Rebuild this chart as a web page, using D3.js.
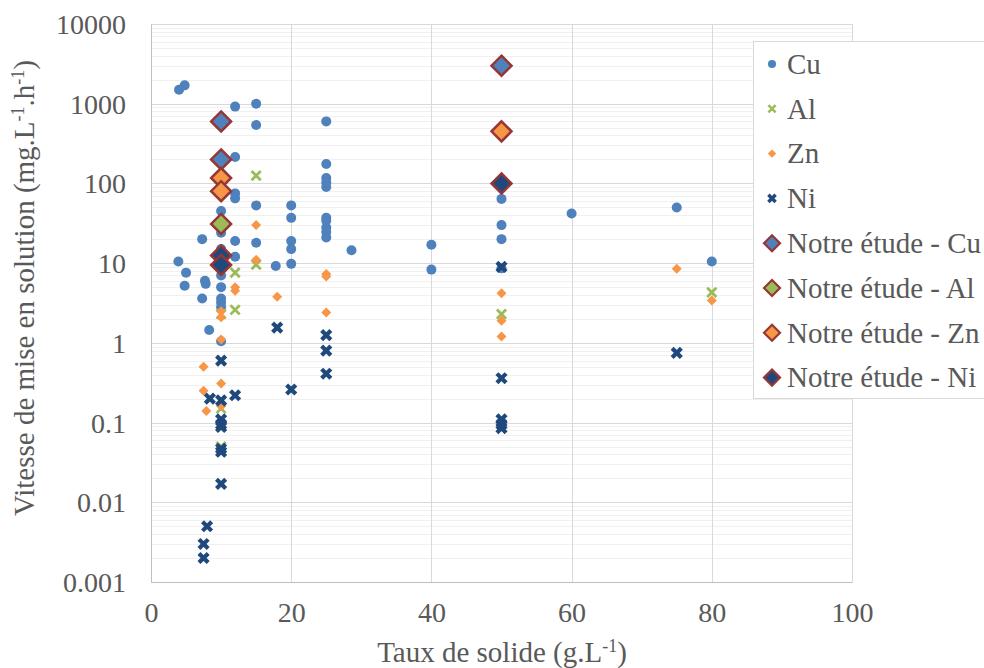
<!DOCTYPE html>
<html>
<head>
<meta charset="utf-8">
<script src="https://cdn.jsdelivr.net/npm/d3@7"></script>
<style>
  html, body { margin: 0; padding: 0; background: #fff; }
  svg { display: block; }
</style>
</head>
<body>
<svg id="chart" width="984" height="668"></svg>
<script>
// ---- Data (x = Taux de solide g/L, y = Vitesse mg/L/h) ----
const cuData = [
  [4,1500],[4.8,1700],[12,920],[15,1000],[15,540],[12,215],
  [12,75],[12,65],[15,53],[10,45],[10,24],[7.3,20],[12,19],[15,18],[10,15],[12,12],
  [3.9,10.5],[5,7.6],[7.7,6],[7.8,5.5],[4.8,5.2],[10,7],[10,5],[7.3,3.6],[10,3.6],
  [10,3.2],[10,2.8],[8.3,1.45],[10,1.05],
  [25,600],[25,175],[25,117],[25,103],[25,90],[20,53],[20,37],[25,37],[25,34],
  [25,28],[25,24.5],[25,21],[20,19],[20,15],[28.6,14.5],[17.8,9.2],[20,9.8],
  [50,64],[50,30],[50,20],[40,17],[40,8.3],[50,8.6],[60,42],[75,50],[80,10.5]
];
const alData = [
  [15,125],[12,7.6],[15,9.6],[12,2.6],[10,2.3],[10,0.15],[10,0.05],[50,2.3],[80,4.3]
];
const znData = [
  [15,30],[15,11],[12,5],[12,4.5],[10,2.5],[10,2.1],[10,1.1],[7.5,0.5],[10,0.31],
  [7.5,0.25],[7.9,0.14],[10,0.16],[18,3.8],[25,7.3],[25,6.8],[25,2.4],
  [50,4.2],[50,1.9],[50,1.2],[75,8.5],[80,3.4]
];
const niData = [
  [10,0.6],[8.4,0.2],[10,0.19],[12,0.22],[10,0.11],[10,0.095],[10,0.088],
  [10,0.047],[10,0.043],[10,0.017],[8,0.005],[7.5,0.003],[7.5,0.002],
  [18,1.55],[25,1.25],[25,0.8],[25,0.41],[20,0.26],
  [50,9],[50,0.36],[50,0.11],[50,0.095],[50,0.085],[75,0.75]
];
const notreCu = [[10,600],[10,200],[50,3000]];
const notreAl = [[10,31]];
const notreZn = [[10,117],[10,80],[50,450]];
const notreNi = [[10,12.5],[10,9.5],[50,100]];

const xTicks = [0,20,40,60,80,100];
const yTicks = [0.001,0.01,0.1,1,10,100,1000,10000];
const yTickLabels = ["0.001","0.01","0.1","1","10","100","1000","10000"];
const legendLabels = ["Cu","Al","Zn","Ni","Notre étude - Cu","Notre étude - Al","Notre étude - Zn","Notre étude - Ni"];

// ---- Setup ----
const FONT = "'Liberation Serif', 'Times New Roman', serif";
const TXT = "#595959";
const svg = d3.select("#chart");
const L = 151, R = 852, T = 24, B = 582;
const x = d3.scaleLinear().domain([0,100]).range([L,R]);
const y = d3.scaleLog().domain([0.001,10000]).range([B,T]);

const C = { cu:"#4F81BD", al:"#9BBB59", zn:"#F79646", ni:"#1F497D", border:"#953735" };

// minor gridlines
const minor = [];
for (let e = -3; e < 4; e++) for (let k = 2; k <= 9; k++) minor.push(k * Math.pow(10, e));
svg.append("g").selectAll("line").data(minor).join("line")
  .attr("x1", L).attr("x2", R)
  .attr("y1", d => Math.round(y(d)) + 0.5).attr("y2", d => Math.round(y(d)) + 0.5)
  .attr("stroke", "#F0F0F0").attr("stroke-width", 1);

// major gridlines
svg.append("g").selectAll("line").data(yTicks).join("line")
  .attr("x1", L).attr("x2", R)
  .attr("y1", d => Math.round(y(d)) + 0.5).attr("y2", d => Math.round(y(d)) + 0.5)
  .attr("stroke", "#D9D9D9").attr("stroke-width", 1);
svg.append("g").selectAll("line").data(xTicks).join("line")
  .attr("y1", T).attr("y2", B)
  .attr("x1", d => Math.round(x(d)) + 0.5).attr("x2", d => Math.round(x(d)) + 0.5)
  .attr("stroke", "#D9D9D9").attr("stroke-width", 1);

// axes (labels only)
const xAxis = d3.axisBottom(x).tickValues(xTicks).tickSize(0).tickPadding(0).tickFormat(d3.format("d"));
const gx = svg.append("g").attr("transform", `translate(0,${B})`).call(xAxis);
gx.attr("font-family", null).attr("font-size", null);
gx.select(".domain").attr("stroke", "#BFBFBF");
gx.selectAll("text").attr("dy", null).attr("y", 40).style("font-size", "28px")
  .style("font-family", FONT).attr("fill", TXT);

const yAxis = d3.axisLeft(y).tickValues(yTicks).tickSize(0).tickPadding(0)
  .tickFormat((d, i) => yTickLabels[i]);
const gy = svg.append("g").attr("transform", `translate(${L},0)`).call(yAxis);
gy.attr("font-family", null).attr("font-size", null);
gy.select(".domain").attr("stroke", "#BFBFBF");
gy.selectAll("text").attr("x", -25).attr("dy", "0.34em").style("font-size", "28px")
  .style("font-family", FONT).attr("fill", TXT);

// axis titles
const xt = svg.append("text").attr("x", 502).attr("y", 662)
  .attr("text-anchor", "middle").style("font-size", "29px").style("font-family", FONT).attr("fill", TXT);
xt.append("tspan").text("Taux de solide (g.L");
xt.append("tspan").attr("dy", -10).style("font-size", "18px").text("-1");
xt.append("tspan").attr("dy", 10).text(")");

const yt = svg.append("text").attr("transform", `translate(34,288) rotate(-90)`)
  .attr("text-anchor", "middle").style("font-size", "29px").style("font-family", FONT).attr("fill", TXT);
yt.append("tspan").text("Vitesse de mise en solution (mg.L");
yt.append("tspan").attr("dy", -10).style("font-size", "18px").text("-1");
yt.append("tspan").attr("dy", 10).text(".h");
yt.append("tspan").attr("dy", -10).style("font-size", "18px").text("-1");
yt.append("tspan").attr("dy", 10).text(")");

// ---- marker drawers ----
function drawCircle(g, cx, cy, r, col) {
  g.append("circle").attr("cx", cx).attr("cy", cy).attr("r", r).attr("fill", col);
}
function drawX(g, cx, cy, h, col, w) {
  g.append("path").attr("d", `M${cx-h},${cy-h}L${cx+h},${cy+h}M${cx-h},${cy+h}L${cx+h},${cy-h}`)
    .attr("stroke", col).attr("stroke-width", w).attr("fill", "none");
}
function drawDiamond(g, cx, cy, h, col, stroke, sw) {
  g.append("path").attr("d", `M${cx},${cy-h}L${cx+h},${cy}L${cx},${cy+h}L${cx-h},${cy}Z`)
    .attr("fill", col).attr("stroke", stroke || "none").attr("stroke-width", sw || 0);
}

const plot = svg.append("g");
cuData.forEach(d => drawCircle(plot, x(d[0]), y(d[1]), 5, C.cu));
alData.forEach(d => drawX(plot, x(d[0]), y(d[1]), 4.6, C.al, 2.8));
znData.forEach(d => drawDiamond(plot, x(d[0]), y(d[1]), 5, C.zn));
niData.forEach(d => drawX(plot, x(d[0]), y(d[1]), 4.6, C.ni, 4.2));
notreCu.forEach(d => drawDiamond(plot, x(d[0]), y(d[1]), 10, C.cu, C.border, 2.5));
notreAl.forEach(d => drawDiamond(plot, x(d[0]), y(d[1]), 10, C.al, C.border, 2.5));
notreZn.forEach(d => drawDiamond(plot, x(d[0]), y(d[1]), 10, C.zn, C.border, 2.5));
notreNi.forEach(d => drawDiamond(plot, x(d[0]), y(d[1]), 10, C.ni, C.border, 2.5));

// ---- legend ----
const lg = svg.append("g");
lg.append("rect").attr("x", 753.5).attr("y", 41.5).attr("width", 240).attr("height", 357)
  .attr("fill", "#fff").attr("stroke", "#D9D9D9");
const ly0 = 64, lstep = 44.8, lmx = 772, ltx = 787;
legendLabels.forEach((lab, i) => {
  const cy = ly0 + i * lstep;
  if (i === 0) drawCircle(lg, lmx, cy, 4, C.cu);
  else if (i === 1) drawX(lg, lmx, cy, 3.6, C.al, 2.5);
  else if (i === 2) drawDiamond(lg, lmx, cy, 4.2, C.zn);
  else if (i === 3) drawX(lg, lmx, cy, 3.6, C.ni, 3.4);
  else {
    const col = [C.cu, C.al, C.zn, C.ni][i - 4];
    drawDiamond(lg, lmx, cy, 8, col, C.border, 2.2);
  }
  lg.append("text").attr("x", ltx).attr("y", cy).attr("dy", "0.34em")
    .style("font-size", "29px").style("font-family", FONT).attr("fill", TXT).text(lab);
});
</script>
</body>
</html>
